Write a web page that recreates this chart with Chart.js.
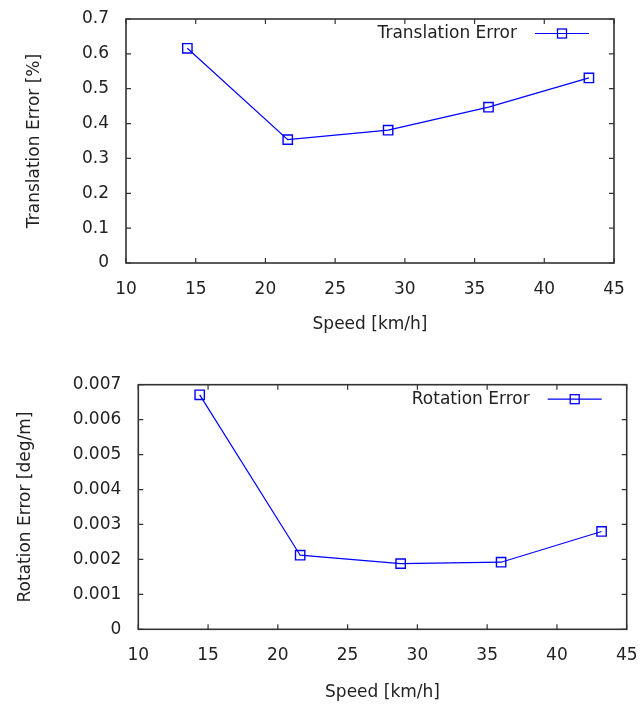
<!DOCTYPE html>
<html>
<head>
<meta charset="utf-8">
<script src="https://cdn.jsdelivr.net/npm/chart.js@4"></script>
<style>
body { margin: 0; background: #fff; }
#box1 { position: absolute; left: 0; top: 0; width: 640px; height: 340px; }
#box2 { position: absolute; left: 0; top: 360px; width: 640px; height: 349px; }
</style>
</head>
<body>
<div id="box1"><canvas id="grap1"></canvas></div>
<div id="box2"><canvas id="grap2"></canvas></div>
<script>
// speeds in km/h
var speeds = [14.4, 21.6, 28.8, 36.0, 43.2];
var translationError = [0.616, 0.354, 0.381, 0.447, 0.531];
var rotationError = [0.00671, 0.00212, 0.00188, 0.00192, 0.00280];

Chart.defaults.font.family = "'DejaVu Sans'";
Chart.defaults.font.size = 17;
Chart.defaults.color = '#222';

// gnuplot style box with inward ticks, plus the legend in the top right corner
var gnuplotFrame = {
    id: 'gnuplotFrame',
    afterDatasetsDraw: function (chart) {
        var c = chart.ctx;
        var a = chart.chartArea;
        var xs = chart.scales.x, ys = chart.scales.y;
        var tl = 5;
        c.save();
        c.strokeStyle = '#333';
        c.lineWidth = 1.6;
        c.strokeRect(a.left, a.top, a.right - a.left, a.bottom - a.top);
        c.lineWidth = 1.2;
        c.beginPath();
        xs.ticks.forEach(function (t) {
            var px = xs.getPixelForValue(t.value);
            c.moveTo(px, a.bottom); c.lineTo(px, a.bottom - tl);
            c.moveTo(px, a.top); c.lineTo(px, a.top + tl);
        });
        ys.ticks.forEach(function (t) {
            var py = ys.getPixelForValue(t.value);
            c.moveTo(a.left, py); c.lineTo(a.left + tl, py);
            c.moveTo(a.right, py); c.lineTo(a.right - tl, py);
        });
        c.stroke();

        // legend
        var ds = chart.data.datasets[0];
        var ly = a.top + 14.5;
        c.fillStyle = '#222';
        c.font = "17px 'DejaVu Sans'";
        c.textAlign = 'right';
        c.textBaseline = 'middle';
        c.fillText(ds.label, a.right - 97, ly);
        c.strokeStyle = '#0000ff';
        c.lineWidth = 1.2;
        c.beginPath();
        c.moveTo(a.right - 79, ly);
        c.lineTo(a.right - 25, ly);
        c.stroke();
        c.lineWidth = 1.3;
        c.strokeRect(a.right - 52 - 4.5, ly - 4.5, 9, 9);
        c.restore();
    }
};

function makeChart(id, values, label, yTitle, yMax, yStep, cfg) {
    return new Chart(document.getElementById(id).getContext('2d'), {
        type: 'line',
        data: {
            datasets: [{
                label: label,
                data: speeds.map(function (s, i) { return { x: s, y: values[i] }; }),
                borderColor: '#0000ff',
                borderWidth: 1.2,
                pointStyle: 'rect',
                pointRadius: 6.6,
                pointBorderWidth: 1.4,
                pointBorderColor: '#0000ff',
                pointBackgroundColor: 'rgba(0,0,0,0)',
                tension: 0
            }]
        },
        options: {
            responsive: true,
            maintainAspectRatio: false,
            animation: false,
            layout: { padding: { left: 0, top: cfg.top, right: cfg.right, bottom: 0 } },
            plugins: {
                legend: { display: false },
                tooltip: { enabled: false }
            },
            scales: {
                x: {
                    type: 'linear',
                    min: 10,
                    max: 45,
                    grid: { display: false, tickLength: 0 },
                    border: { display: false },
                    ticks: { stepSize: 5, padding: 16, maxRotation: 0 },
                    title: { display: true, text: 'Speed [km/h]', padding: { top: 0, bottom: cfg.xTitlePad } },
                    afterFit: function (s) {
                        s.height = cfg.xHeight;
                        s.paddingLeft = 0;
                        s.paddingRight = 0;
                    }
                },
                y: {
                    min: 0,
                    max: yMax,
                    grid: { display: false, tickLength: 0 },
                    border: { display: false },
                    ticks: { stepSize: yStep, padding: 17 },
                    title: { display: true, text: yTitle, padding: { top: cfg.yTitlePad, bottom: 0 } },
                    afterFit: function (s) {
                        s.width = cfg.yWidth;
                        s.paddingTop = 0;
                        s.paddingBottom = 0;
                    }
                }
            }
        },
        plugins: [gnuplotFrame]
    });
}

var chart1 = makeChart('grap1', translationError, 'Translation Error', 'Translation Error [%]', 0.7, 0.1,
    { top: 19, right: 26, xHeight: 77, yWidth: 126, xTitlePad: 4.8, yTitlePad: 24.8 });
var chart2 = makeChart('grap2', rotationError, 'Rotation Error', 'Rotation Error [deg/m]', 0.007, 0.001,
    { top: 24.7, right: 13.3, xHeight: 79.7, yWidth: 138.3, xTitlePad: 5.8, yTitlePad: 15.5 });
</script>
</body>
</html>
